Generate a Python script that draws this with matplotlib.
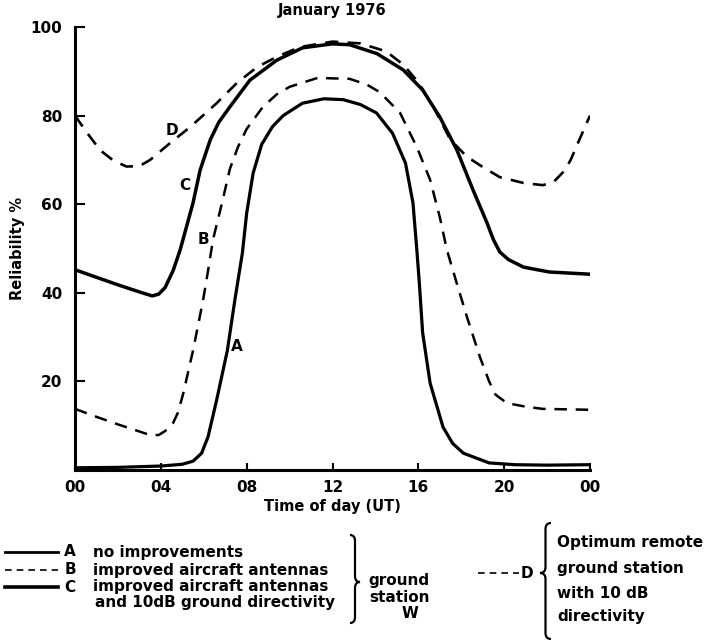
import matplotlib
matplotlib.use("Agg")
import matplotlib.pyplot as plt
from matplotlib.path import Path
from matplotlib.patches import PathPatch

plt.rcParams['font.family'] = ['DejaVu Sans']
plt.rcParams['font.weight'] = 'bold'

# values (hour UT, reliability %)
hours_A = [0, 2, 4, 5.0, 5.5, 5.9, 6.2, 6.6, 7.1, 7.45, 7.8, 8.0, 8.3, 8.7, 9.2, 9.7,
           10.6, 11.6, 12.5, 13.3, 14.05, 14.8, 15.4, 15.75, 15.93, 16.05, 16.2,
           16.55, 17.15, 17.6, 18.1, 19.3, 20.5, 22, 24]
rel_A = [0.5, 0.6, 0.9, 1.3, 2.0, 3.8, 7.5, 15.8, 27, 38.4, 49, 58, 67, 73.5, 77.5, 80,
         82.8, 83.8, 83.6, 82.5, 80.6, 76, 69.3, 60.3, 49.7, 42, 31,
         19.6, 9.7, 6.0, 3.8, 1.6, 1.2, 1.1, 1.2]

hours_B = [0, 1, 2, 3, 3.5, 3.9, 4.2, 4.57, 4.8, 5.05, 5.5, 5.97, 6.2, 6.43, 6.85, 7.22,
           7.6, 8.0, 8.76, 9.4, 10.0, 11.3, 12.8, 13.6, 14.2, 15.15, 15.93, 16.55, 17.0,
           17.33, 17.8, 18.27, 18.87, 19.3, 19.6, 20.13, 21.0, 21.8, 24]
rel_B = [13.8, 12, 10.3, 8.7, 7.9, 7.9, 8.8, 10.6, 13, 17.4, 27, 38.4, 45, 52, 60.3, 68,
         73, 77, 82, 84.8, 86.5, 88.5, 88.3, 87, 85.3, 80.6, 72.9, 65.5, 57.1,
         49.7, 42, 34.5, 25.5, 20, 17, 15.1, 14.3, 13.8, 13.6]

hours_C = [0, 1, 2, 3, 3.6, 3.9, 4.2, 4.57, 4.9, 5.2, 5.5, 5.83, 6.3, 6.7, 7.22, 8.15,
           9.4, 10.6, 12.0, 12.8, 14.07, 15.3, 16.2, 17.0, 17.8, 18.55, 19.2, 19.5,
           19.8, 20.2, 20.9, 22.1, 24]
rel_C = [45.2, 43.5, 41.8, 40.2, 39.3, 39.7, 41.2, 45, 49.7, 55, 60.3, 67.7, 74.5, 78.5,
         82, 88, 92.5, 95.3, 96.2, 96, 94, 90.3, 85.8, 79.7, 72.2, 63.2, 55.8, 52,
         49.2, 47.5, 45.8, 44.7, 44.2]

hours_D = [0, 0.5, 1.17, 1.8, 2.4, 3.0, 3.5, 4.43, 5.36, 6.6, 7.55, 8.5, 9.5, 10.5, 12,
           13.3, 14.5, 15.3, 16.0, 16.7, 17.5, 18.27, 19.0, 19.8, 20.9, 21.8, 22.3,
           22.8, 23.1, 23.5, 24]
rel_D = [80, 76.5, 72.2, 69.8, 68.5, 68.6, 70, 73.8, 77.4, 82.8, 87.4, 91, 93.5, 95.5,
         96.7, 96.3, 94.5, 91.5, 87.5, 82, 74.5, 70.7, 68.4, 66.1, 64.8, 64.3, 65,
         67.5, 70, 74.5, 80]

curve_names = ['A', 'B', 'C', 'D']
label_hours = [7.55, 6.0, 5.1, 4.5]
label_rel = [27.8, 52, 64.3, 76.7]

xtick_hours = [0, 4, 8, 12, 16, 20, 24]
xtick_labels = ['00', '04', '08', '12', '16', '20', '00']
ytick_vals = [20, 40, 60, 80, 100]


def brace(ax, x, ytop, ybot, w, ymid, lw=1.6):
    xm = x + w / 2.0
    r = 6
    verts = [(x, ytop), (xm, ytop), (xm, ytop + r),
             (xm, ymid - r), (xm, ymid), (x + w, ymid),
             (xm, ymid), (xm, ymid + r),
             (xm, ybot - r), (xm, ybot), (x, ybot)]
    codes = [Path.MOVETO, Path.CURVE3, Path.CURVE3, Path.LINETO, Path.CURVE3,
             Path.CURVE3, Path.CURVE3, Path.CURVE3, Path.LINETO, Path.CURVE3,
             Path.CURVE3]
    ax.add_patch(PathPatch(Path(verts, codes), fill=False, lw=lw, color='black'))


fig = plt.figure(figsize=(7.18, 6.4), dpi=100)
ax = fig.add_axes([0.1045, 0.2656, 0.7172, 0.6922])

ax.plot(hours_A, rel_A, color='black', lw=2.3, solid_capstyle='round', zorder=3)
ax.plot(hours_B, rel_B, color='black', lw=1.8, dashes=(5, 3.5), zorder=3)
ax.plot(hours_C, rel_C, color='black', lw=2.5, solid_capstyle='round', zorder=3)
ax.plot(hours_D, rel_D, color='black', lw=1.9, dashes=(5, 3.5), zorder=4)

for name, hx, ry in zip(curve_names, label_hours, label_rel):
    ax.text(hx, ry, name, fontsize=11, fontweight='bold', ha='center', va='center')

ax.set_xlim(0, 24)
ax.set_ylim(0, 100)
ax.set_xticks(xtick_hours)
ax.set_xticklabels(xtick_labels)
ax.set_yticks(ytick_vals)
ax.spines['top'].set_visible(False)
ax.spines['right'].set_visible(False)
ax.spines['left'].set_linewidth(2.2)
ax.spines['bottom'].set_linewidth(2.2)
ax.tick_params(axis='both', direction='in', width=1.5, labelsize=11)
ax.tick_params(axis='y', length=7, pad=9)
ax.tick_params(axis='x', length=5, pad=7)
ax.set_xlabel('Time of day (UT)', fontsize=10.5, fontweight='bold', labelpad=3)
ax.set_ylabel('Reliability %', fontsize=10.5, fontweight='bold')
ax.yaxis.set_label_coords(-0.097, 0.5)
ax.set_title('January 1976', fontsize=10.5, fontweight='bold', pad=9)

# legend block under the chart, drawn in pixel coordinates
lg = fig.add_axes([0, 0, 1, 1], zorder=-1)
lg.set_xlim(0, 718)
lg.set_ylim(640, 0)
lg.axis('off')

lg.plot([5, 58], [552, 552], color='black', lw=2)
lg.plot([5, 58], [570, 570], color='black', lw=1.2, dashes=(4, 3))
lg.plot([5, 58], [587, 587], color='black', lw=2.6)
fs = 11
for letter, yy in zip(['A', 'B', 'C'], [552, 570, 587]):
    lg.text(70, yy, letter, fontsize=fs, fontweight='bold', va='center', ha='center')
lg.text(93, 552, 'no improvements', fontsize=fs, fontweight='bold', va='center')
lg.text(93, 570, 'improved aircraft antennas', fontsize=fs, fontweight='bold', va='center')
lg.text(93, 587, 'improved aircraft antennas', fontsize=fs, fontweight='bold', va='center')
lg.text(95, 603, 'and 10dB ground directivity', fontsize=fs, fontweight='bold', va='center')

brace(lg, 350, 535, 623, 10, 582)
lg.text(368, 580, 'ground', fontsize=fs, fontweight='bold', va='center')
lg.text(369, 598, 'station', fontsize=fs, fontweight='bold', va='center')
lg.text(410, 614, 'W', fontsize=fs, fontweight='bold', va='center', ha='center')

lg.plot([478, 519], [573, 573], color='black', lw=1.2, dashes=(4, 3))
lg.text(521, 573, 'D', fontsize=fs, fontweight='bold', va='center')
brace(lg, 551, 523, 639, -11, 573)
lg.text(557, 542, 'Optimum remote', fontsize=fs, fontweight='bold', va='center')
lg.text(557, 568, 'ground station', fontsize=fs, fontweight='bold', va='center')
lg.text(557, 593, 'with 10 dB', fontsize=fs, fontweight='bold', va='center')
lg.text(557, 617, 'directivity', fontsize=fs, fontweight='bold', va='center')

fig.savefig('out.png', dpi=100)
